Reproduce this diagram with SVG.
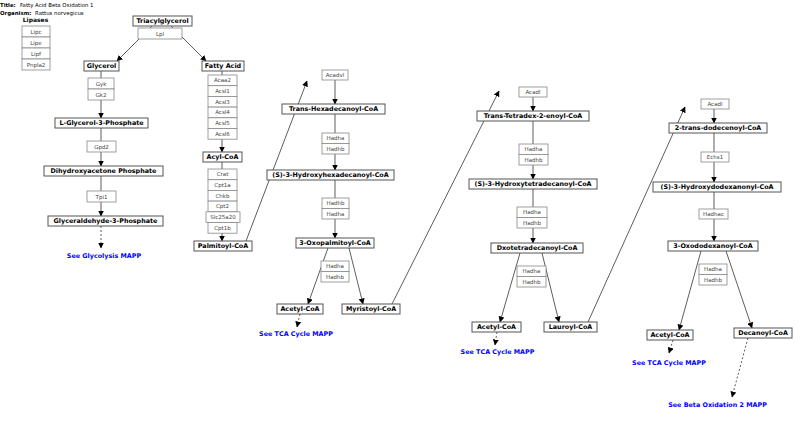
<svg xmlns="http://www.w3.org/2000/svg" width="800" height="443" viewBox="0 0 800 443">
<defs>
<marker id="ah" markerWidth="6" markerHeight="6" refX="5.5" refY="3" orient="auto" markerUnits="userSpaceOnUse">
<path d="M0,0 L6,3 L0,6 z" fill="#000"/>
</marker>
<style>
.m rect{fill:#fff;stroke:#555;stroke-width:1}
.m text{font-family:"DejaVu Sans",sans-serif;font-weight:bold;font-size:6.4px;text-anchor:middle;fill:#000}
.g rect{fill:#fff;stroke:#888;stroke-width:0.8}
.g text{font-family:"DejaVu Sans",sans-serif;font-size:5.5px;text-anchor:middle;fill:#444}
.c line{stroke:#333;stroke-width:0.8;fill:none;marker-end:url(#ah)}
.c line.d{stroke-dasharray:2,2}
.lnk{font-family:"DejaVu Sans",sans-serif;font-weight:bold;font-size:6.4px;text-anchor:middle;fill:#0000ff}
.hd{font-family:"DejaVu Sans",sans-serif;font-size:5.4px;fill:#000}
.hdb{font-family:"DejaVu Sans",sans-serif;font-size:5.4px;font-weight:bold;fill:#000}
</style>
</defs>
<rect width="800" height="443" fill="#fff"/>
<g id="header">
<text class="hdb" x="0" y="7">Title:</text><text class="hd" x="20" y="7">Fatty Acid Beta Oxidation 1</text>
<text class="hdb" x="0" y="14.5">Organism:</text><text class="hd" x="35" y="14.5">Rattus norvegicus</text>
</g>
<g id="connectors" class="c">
<line x1="152" y1="26" x2="117" y2="61"/>
<line x1="171" y1="26" x2="206" y2="61"/>
<line x1="101" y1="71" x2="101" y2="118"/>
<line x1="101" y1="128" x2="101" y2="166"/>
<line x1="101" y1="176" x2="101" y2="216"/>
<line class="d" x1="101" y1="226" x2="101" y2="248"/>
<line x1="222" y1="71" x2="222" y2="152"/>
<line x1="222" y1="162" x2="222" y2="241"/>
<line x1="246" y1="241" x2="307" y2="81"/>
<line x1="335" y1="80" x2="335" y2="104"/>
<line x1="335" y1="114" x2="335" y2="170"/>
<line x1="335" y1="180" x2="335" y2="238"/>
<line x1="328" y1="248" x2="308" y2="304"/>
<line x1="349" y1="248" x2="363" y2="304"/>
<line class="d" x1="300" y1="314" x2="297" y2="327"/>
<line x1="392" y1="304" x2="499" y2="91"/>
<line x1="533" y1="97" x2="533" y2="111"/>
<line x1="533" y1="121" x2="533" y2="179"/>
<line x1="533" y1="189" x2="533" y2="243"/>
<line x1="520" y1="253" x2="500" y2="322"/>
<line x1="542" y1="253" x2="559" y2="322"/>
<line class="d" x1="497" y1="332" x2="495" y2="345"/>
<line x1="588" y1="322" x2="685" y2="107"/>
<line x1="714" y1="109" x2="714" y2="123"/>
<line x1="714" y1="133" x2="714" y2="182"/>
<line x1="714" y1="192" x2="714" y2="241"/>
<line x1="701" y1="251" x2="679" y2="330"/>
<line x1="726" y1="251" x2="752" y2="328"/>
<line class="d" x1="673" y1="340" x2="669" y2="353"/>
<line class="d" x1="748" y1="338" x2="732" y2="397"/>
</g>
<g id="lipases">
<text class="hdb" x="35.5" y="21.5" text-anchor="middle" style="font-size:6px">Lipases</text>
<g class="g">
<rect x="22" y="26" width="28" height="11"/><text x="36" y="33.5">Lipc</text>
<rect x="22" y="37" width="28" height="11"/><text x="36" y="44.5">Lipe</text>
<rect x="22" y="48" width="28" height="11"/><text x="36" y="55.5">Lipf</text>
<rect x="22" y="59" width="28" height="11"/><text x="36" y="66.5">Pnpla2</text>
</g>
</g>
<g id="n-triacylglycerol" class="m"><rect x="133" y="16" width="59" height="10"/><text x="162.5" y="23.2">Triacylglycerol</text></g>
<g id="g-lpl" class="g"><rect x="138" y="28" width="44" height="11"/><text x="160" y="35.5">Lpl</text></g>
<g id="n-glycerol" class="m"><rect x="84" y="61" width="35" height="10"/><text x="101.5" y="68.2">Glycerol</text></g>
<g id="n-fattyacid" class="m"><rect x="202" y="61" width="42" height="10"/><text x="223" y="68.2">Fatty Acid</text></g>
<g id="g-gyk" class="g">
<rect x="88" y="78" width="26" height="11"/><text x="101" y="85.5">Gyk</text>
<rect x="88" y="89" width="26" height="11"/><text x="101" y="96.5">Gk2</text>
</g>
<g id="n-lg3p" class="m"><rect x="55" y="118" width="93" height="10"/><text x="101.5" y="125.2">L-Glycerol-3-Phosphate</text></g>
<g id="g-gpd2" class="g"><rect x="87" y="141" width="29" height="11"/><text x="101.5" y="148.5">Gpd2</text></g>
<g id="n-dhap" class="m"><rect x="44" y="166" width="119" height="10"/><text x="103.5" y="173.2">Dihydroxyacetone Phosphate</text></g>
<g id="g-tpi1" class="g"><rect x="87" y="191" width="29" height="11"/><text x="101.5" y="198.5">Tpi1</text></g>
<g id="n-g3p" class="m"><rect x="48" y="216" width="115" height="10"/><text x="105.5" y="223.2">Glyceraldehyde-3-Phosphate</text></g>
<text id="l-glycolysis" class="lnk" x="104" y="258">See Glycolysis MAPP</text>
<g id="g-acsl" class="g">
<rect x="208" y="75" width="29" height="10.7"/><text x="222.5" y="82.3">Acaa2</text>
<rect x="208" y="85.7" width="29" height="10.7"/><text x="222.5" y="93">Acsl1</text>
<rect x="208" y="96.4" width="29" height="10.7"/><text x="222.5" y="103.7">Acsl3</text>
<rect x="208" y="107.1" width="29" height="10.7"/><text x="222.5" y="114.4">Acsl4</text>
<rect x="208" y="117.8" width="29" height="10.7"/><text x="222.5" y="125.1">Acsl5</text>
<rect x="208" y="128.5" width="29" height="10.7"/><text x="222.5" y="135.8">Acsl6</text>
</g>
<g id="n-acylcoa" class="m"><rect x="203" y="152" width="39" height="10"/><text x="222.5" y="159.2">Acyl-CoA</text></g>
<g id="g-cpt" class="g">
<rect x="208" y="169" width="29" height="10.7"/><text x="222.5" y="176.3">Crat</text>
<rect x="208" y="179.7" width="29" height="10.7"/><text x="222.5" y="187">Cpt1a</text>
<rect x="208" y="190.4" width="29" height="10.7"/><text x="222.5" y="197.7">Chkb</text>
<rect x="208" y="201.1" width="29" height="10.7"/><text x="222.5" y="208.4">Cpt2</text>
<rect x="206" y="211.8" width="34" height="10.7"/><text x="223" y="219.1">Slc25a20</text>
<rect x="208" y="222.5" width="29" height="10.7"/><text x="222.5" y="229.8">Cpt1b</text>
</g>
<g id="n-palmitoyl" class="m"><rect x="194" y="241" width="58" height="10"/><text x="223" y="248.2">Palmitoyl-CoA</text></g>
<g id="g-acadvl" class="g"><rect x="322" y="70" width="26" height="10"/><text x="335" y="77">Acadvl</text></g>
<g id="n-transhex" class="m"><rect x="282" y="104" width="103" height="10"/><text x="333.5" y="111.2">Trans-Hexadecanoyl-CoA</text></g>
<g id="g-hadh1" class="g">
<rect x="322" y="133" width="27" height="10.5"/><text x="335.5" y="140.2">Hadha</text>
<rect x="322" y="143.5" width="27" height="10.5"/><text x="335.5" y="150.7">Hadhb</text>
</g>
<g id="n-s3hhex" class="m"><rect x="267" y="170" width="127" height="10"/><text x="330.5" y="177.2">(S)-3-Hydroxyhexadecanoyl-CoA</text></g>
<g id="g-hadh2" class="g">
<rect x="322" y="198" width="27" height="10.5"/><text x="335.5" y="205.2">Hadhb</text>
<rect x="322" y="208.5" width="27" height="10.5"/><text x="335.5" y="215.7">Hadha</text>
</g>
<g id="n-oxopalm" class="m"><rect x="296" y="238" width="78" height="10"/><text x="335" y="245.2">3-Oxopalmitoyl-CoA</text></g>
<g id="g-hadh3" class="g">
<rect x="321" y="261" width="28" height="10.5"/><text x="335" y="268.2">Hadha</text>
<rect x="321" y="271.5" width="28" height="10.5"/><text x="335" y="278.7">Hadhb</text>
</g>
<g id="n-acetyl1" class="m"><rect x="277" y="304" width="46" height="10"/><text x="300" y="311.2">Acetyl-CoA</text></g>
<g id="n-myristoyl" class="m"><rect x="342" y="304" width="58" height="10"/><text x="371" y="311.2">Myristoyl-CoA</text></g>
<text id="l-tca1" class="lnk" x="296" y="336">See TCA Cycle MAPP</text>
<g id="g-acadl1" class="g"><rect x="519" y="87" width="28" height="10"/><text x="533" y="94">Acadl</text></g>
<g id="n-transtet" class="m"><rect x="477" y="111" width="112" height="10"/><text x="533" y="118.2">Trans-Tetradex-2-enoyl-CoA</text></g>
<g id="g-hadh4" class="g">
<rect x="519" y="144" width="29" height="10.5"/><text x="533.5" y="151.2">Hadha</text>
<rect x="519" y="154.5" width="29" height="10.5"/><text x="533.5" y="161.7">Hadhb</text>
</g>
<g id="n-s3htet" class="m"><rect x="469" y="179" width="128" height="10"/><text x="533" y="186.2">(S)-3-Hydroxytetradecanoyl-CoA</text></g>
<g id="g-hadh5" class="g">
<rect x="517" y="207" width="30" height="10.5"/><text x="532" y="214.2">Hadha</text>
<rect x="517" y="217.5" width="30" height="10.5"/><text x="532" y="224.7">Hadhb</text>
</g>
<g id="n-dxotet" class="m"><rect x="491" y="243" width="92" height="10"/><text x="537" y="250.2">Dxotetradecanoyl-CoA</text></g>
<g id="g-hadh6" class="g">
<rect x="517" y="266" width="29" height="10.5"/><text x="531.5" y="273.2">Hadha</text>
<rect x="517" y="276.5" width="29" height="10.5"/><text x="531.5" y="283.7">Hadhb</text>
</g>
<g id="n-acetyl2" class="m"><rect x="472" y="322" width="49" height="10"/><text x="496.5" y="329.2">Acetyl-CoA</text></g>
<g id="n-lauroyl" class="m"><rect x="544" y="322" width="53" height="10"/><text x="570.5" y="329.2">Lauroyl-CoA</text></g>
<text id="l-tca2" class="lnk" x="497.5" y="354">See TCA Cycle MAPP</text>
<g id="g-acadl2" class="g"><rect x="701" y="99" width="28" height="10"/><text x="715" y="106">Acadl</text></g>
<g id="n-2trans" class="m"><rect x="669" y="123" width="98" height="10"/><text x="718" y="130.2">2-trans-dodecenoyl-CoA</text></g>
<g id="g-echs1" class="g"><rect x="701" y="152" width="28" height="10"/><text x="715" y="159">Echs1</text></g>
<g id="n-s3hdod" class="m"><rect x="653" y="182" width="128" height="10"/><text x="717" y="189.2">(S)-3-Hydroxydodexanonyl-CoA</text></g>
<g id="g-hadhac" class="g"><rect x="699" y="209" width="29" height="10"/><text x="713.5" y="216">Hadhac</text></g>
<g id="n-oxodod" class="m"><rect x="668" y="241" width="90" height="10"/><text x="713" y="248.2">3-Oxododexanoyl-CoA</text></g>
<g id="g-hadh7" class="g">
<rect x="699" y="264" width="28" height="10.5"/><text x="713" y="271.2">Hadha</text>
<rect x="699" y="274.5" width="28" height="10.5"/><text x="713" y="281.7">Hadhb</text>
</g>
<g id="n-acetyl3" class="m"><rect x="647" y="330" width="46" height="10"/><text x="670" y="337.2">Acetyl-CoA</text></g>
<g id="n-decanoyl" class="m"><rect x="734" y="328" width="58" height="10"/><text x="763" y="335.2">Decanoyl-CoA</text></g>
<text id="l-tca3" class="lnk" x="669" y="365">See TCA Cycle MAPP</text>
<text id="l-betaox2" class="lnk" x="717.5" y="407">See Beta Oxidation 2 MAPP</text>
</svg>
